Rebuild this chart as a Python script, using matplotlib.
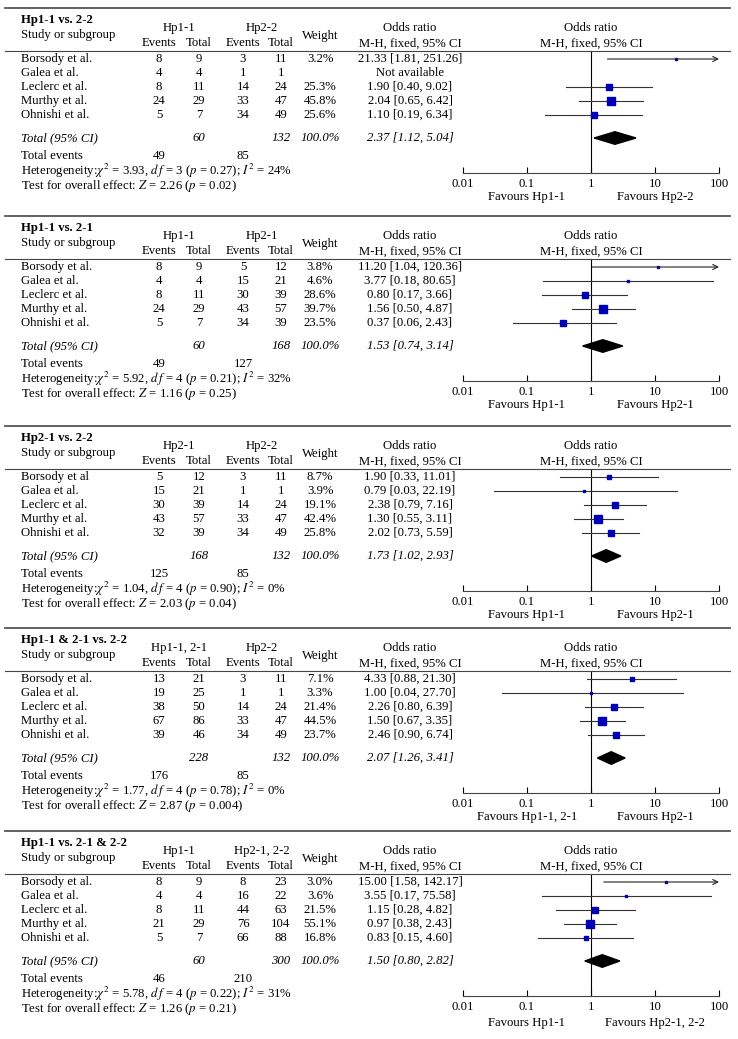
import numpy as np
import matplotlib
matplotlib.use("Agg")
import matplotlib.pyplot as plt
from matplotlib.lines import Line2D
from matplotlib.patches import Polygon

plt.rcParams['font.family'] = ['Liberation Serif', 'DejaVu Serif']
plt.rcParams['mathtext.fontset'] = 'stix'
plt.rcParams['font.size'] = 9.2

W, H = 738, 1039

# ---- data ----
titles = ["Hp1-1 vs. 2-2", "Hp1-1 vs. 2-1", "Hp2-1 vs. 2-2", "Hp1-1 & 2-1 vs. 2-2", "Hp1-1 vs. 2-1 & 2-2"]
group1 = ["Hp1-1", "Hp1-1", "Hp2-1", "Hp1-1, 2-1", "Hp1-1"]
group2 = ["Hp2-2", "Hp2-1", "Hp2-2", "Hp2-2", "Hp2-1, 2-2"]
studies = [
    ["Borsody et al.", "Galea et al.", "Leclerc et al.", "Murthy et al.", "Ohnishi et al."],
    ["Borsody et al.", "Galea et al.", "Leclerc et al.", "Murthy et al.", "Ohnishi et al."],
    ["Borsody et al", "Galea et al.", "Leclerc et al.", "Murthy et al.", "Ohnishi et al."],
    ["Borsody et al.", "Galea et al.", "Leclerc et al.", "Murthy et al.", "Ohnishi et al."],
    ["Borsody et al.", "Galea et al.", "Leclerc et al.", "Murthy et al.", "Ohnishi et al."],
]
events1 = [[8, 4, 8, 24, 5], [8, 4, 8, 24, 5], [5, 15, 30, 43, 32], [13, 19, 38, 67, 39], [8, 4, 8, 21, 5]]
total1 = [[9, 4, 11, 29, 7], [9, 4, 11, 29, 7], [12, 21, 39, 57, 39], [21, 25, 50, 86, 46], [9, 4, 11, 29, 7]]
events2 = [[3, 1, 14, 33, 34], [5, 15, 30, 43, 34], [3, 1, 14, 33, 34], [3, 1, 14, 33, 34], [8, 16, 44, 76, 66]]
total2 = [[11, 1, 24, 47, 49], [12, 21, 39, 57, 39], [11, 1, 24, 47, 49], [11, 1, 24, 47, 49], [23, 22, 63, 104, 88]]
weights = [[3.2, None, 25.3, 45.8, 25.6], [3.8, 4.6, 28.6, 39.7, 23.5], [8.7, 3.9, 19.1, 42.4, 25.8],
           [7.1, 3.3, 21.4, 44.5, 23.7], [3.0, 3.6, 21.5, 55.1, 16.8]]
odds = [[21.33, None, 1.90, 2.04, 1.10], [11.20, 3.77, 0.80, 1.56, 0.37], [1.90, 0.79, 2.38, 1.30, 2.02],
        [4.33, 1.00, 2.26, 1.50, 2.46], [15.00, 3.55, 1.15, 0.97, 0.83]]
ci_low = [[1.81, None, 0.40, 0.65, 0.19], [1.04, 0.18, 0.17, 0.50, 0.06], [0.33, 0.03, 0.79, 0.55, 0.73],
          [0.88, 0.04, 0.80, 0.67, 0.90], [1.58, 0.17, 0.28, 0.38, 0.15]]
ci_high = [[251.26, None, 9.02, 6.42, 6.34], [120.36, 80.65, 3.66, 4.87, 2.43], [11.01, 22.19, 7.16, 3.11, 5.59],
           [21.30, 27.70, 6.39, 3.35, 6.74], [142.17, 75.58, 4.82, 2.43, 4.60]]
pooled = [2.37, 1.53, 1.73, 2.07, 1.50]
pooled_low = [1.12, 0.74, 1.02, 1.26, 0.80]
pooled_high = [5.04, 3.14, 2.93, 3.41, 2.82]
sum_total1 = [60, 60, 168, 228, 60]
sum_total2 = [132, 168, 132, 132, 300]
sum_events1 = [49, 49, 125, 176, 46]
sum_events2 = [85, 127, 85, 85, 210]
chi2 = ["3.93", "5.92", "1.04", "1.77", "5.78"]
dfs = [3, 4, 4, 4, 4]
p_het = ["0.27", "0.21", "0.90", "0.78", "0.22"]
i2 = [24, 32, 0, 0, 31]
z_vals = ["2.26", "1.16", "2.03", "2.87", "1.26"]
p_z = ["0.02", "0.25", "0.04", "0.004", "0.21"]
fav_left = ["Favours Hp1-1", "Favours Hp1-1", "Favours Hp1-1", "Favours Hp1-1, 2-1", "Favours Hp1-1"]
fav_right = ["Favours Hp2-2", "Favours Hp2-1", "Favours Hp2-1", "Favours Hp2-1", "Favours Hp2-1, 2-2"]
ticks = [0.01, 0.1, 1, 10, 100]
tick_labels = ["0.01", "0.1", "1", "10", "100"]

# ---- layout (pixels) ----
tops = [8, 216, 426, 628, 831]
fav_off = [189, 189, 189, 189, 192]
x_name, x_e1, x_t1, x_e2, x_t2, x_w, x_or = 21, 159, 199, 243, 281, 320, 410
fx0, fx1 = 463, 719          # forest axis from 0.01 to 100
row0, row_step = 51, 14
total_off, axis_off, head_off = 130, 165, 43

fig = plt.figure(figsize=(W / 100, H / 100), dpi=100)


def txt(x, y, s, ha="center", **kw):
    fig.text(x / W, 1 - y / H, s, ha=ha, va="center", **kw)


def hline(y, x0, x1, **kw):
    fig.add_artist(Line2D([x0 / W, x1 / W], [1 - y / H, 1 - y / H], transform=fig.transFigure, **kw))


for k in range(5):
    T = tops[k]
    hline(T, 5, 730, color="#555555", lw=1.3)
    hline(T + head_off, 5, 730, color="#444444", lw=0.8)

    txt(x_name, T + 12, titles[k], ha="left", fontweight="bold")
    txt(x_name, T + 27, "Study or subgroup", ha="left")
    txt((x_e1 + x_t1) / 2, T + 20, group1[k])
    txt((x_e2 + x_t2) / 2, T + 20, group2[k])
    for xc in (x_e1, x_e2):
        txt(xc, T + 35, "Events")
    for xc in (x_t1, x_t2):
        txt(xc, T + 35, "Total")
    txt(x_w, T + 28, "Weight")
    for xc in (x_or, (fx0 + fx1) / 2):
        txt(xc, T + 20, "Odds ratio")
        txt(xc, T + 36, "M-H, fixed, 95% CI")

    for i in range(5):
        y = T + row0 + row_step * i
        txt(x_name, y, studies[k][i], ha="left")
        txt(x_e1, y, str(events1[k][i]))
        txt(x_t1, y, str(total1[k][i]))
        txt(x_e2, y, str(events2[k][i]))
        txt(x_t2, y, str(total2[k][i]))
        if weights[k][i] is None:
            txt(x_or, y, "Not available")
        else:
            txt(x_w, y, f"{weights[k][i]:.1f}%")
            txt(x_or, y, f"{odds[k][i]:.2f} [{ci_low[k][i]:.2f}, {ci_high[k][i]:.2f}]")

    y = T + total_off
    txt(x_name, y, "Total (95% CI)", ha="left", style="italic")
    txt(x_t1, y, str(sum_total1[k]), style="italic")
    txt(x_t2, y, str(sum_total2[k]), style="italic")
    txt(x_w, y, "100.0%", style="italic")
    txt(x_or, y, f"{pooled[k]:.2f} [{pooled_low[k]:.2f}, {pooled_high[k]:.2f}]", style="italic")

    txt(x_name, T + 148, "Total events", ha="left")
    txt(x_e1, T + 148, str(sum_events1[k]))
    txt(x_e2, T + 148, str(sum_events2[k]))
    txt(x_name, T + 162.5,
        r"Heterogeneity:$\chi^2$ = " + chi2[k] + r", $d\,f$ = " + str(dfs[k]) +
        r" ($p$ = " + p_het[k] + r"); $I^2$ = " + str(i2[k]) + "%", ha="left")
    txt(x_name, T + 178, r"Test for overall effect: $Z$ = " + z_vals[k] + r" ($p$ = " + p_z[k] + ")", ha="left")

    # forest plot axes
    ax = fig.add_axes([fx0 / W, 1 - (T + axis_off) / H, (fx1 - fx0) / W, (axis_off - head_off) / H])
    ax.set_xscale("log")
    ax.set_xlim(0.01, 100)
    r_top = (head_off - row0) / row_step
    r_bot = (axis_off - row0) / row_step
    ax.set_ylim(r_bot, r_top)
    ax.patch.set_alpha(0)
    for s in ("top", "left", "right"):
        ax.spines[s].set_visible(False)
    ax.spines["bottom"].set_linewidth(0.8)
    ax.spines["bottom"].set_color("#444444")
    ax.set_yticks([])
    ax.set_xticks(ticks)
    ax.set_xticklabels(tick_labels)
    ax.xaxis.set_minor_locator(matplotlib.ticker.NullLocator())
    ax.tick_params(axis="x", direction="in", length=4, width=0.8, pad=3.5, labelsize=9.2)
    ax.axvline(1, color="black", lw=0.8)

    for i in range(5):
        if odds[k][i] is None:
            continue
        if ci_high[k][i] > 100:
            ax.annotate("", xy=(100, i), xytext=(ci_low[k][i], i),
                        arrowprops=dict(arrowstyle="->", color="#222222", lw=0.8,
                                        shrinkA=0, shrinkB=0, mutation_scale=9))
        else:
            ax.plot([ci_low[k][i], ci_high[k][i]], [i, i], color="#333333", lw=0.8)
        ms = 1.2 * np.sqrt(weights[k][i]) * 0.72
        ax.plot(odds[k][i], i, marker="s", ms=ms, color="#0000b4", mec="#0000b4", lw=0)

    r_tot = (total_off - row0) / row_step
    dh = 0.45
    ax.add_patch(Polygon([(pooled_low[k], r_tot), (pooled[k], r_tot - dh),
                          (pooled_high[k], r_tot), (pooled[k], r_tot + dh)],
                         closed=True, color="black"))

    xf = (fx1 - fx0) / 4
    txt(fx0 + xf, T + fav_off[k], fav_left[k])
    txt(fx0 + 3 * xf, T + fav_off[k], fav_right[k])

fig.savefig("out.png", dpi=100)
